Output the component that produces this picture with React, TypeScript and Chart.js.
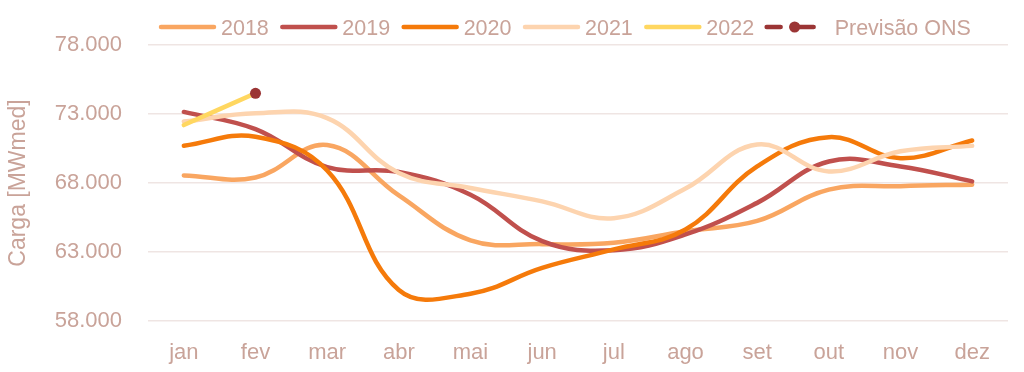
import { useEffect, useRef } from 'react';
import { Chart, registerables } from 'chart.js';

Chart.register(...registerables);

const categories = ['jan', 'fev', 'mar', 'abr', 'mai', 'jun', 'jul', 'ago', 'set', 'out', 'nov', 'dez'];

const y2018 = [68550, 68400, 70750, 67100, 63850, 63570, 63670, 64510, 65250, 67520, 67770, 67880];
const y2019 = [73150, 71900, 69150, 68800, 67150, 63790, 63120, 64270, 66560, 69560, 69200, 68120];
const y2020 = [70700, 71350, 68900, 60250, 59980, 61850, 63190, 64630, 69200, 71320, 69800, 71080];
const y2021 = [72450, 73050, 72700, 68720, 67640, 66670, 65450, 67600, 70790, 68840, 70300, 70690];
const y2022 = [72200, 74500];
const previsaoONS = [null, 74500];

const seriesLabels = ['2018', '2019', '2020', '2021', '2022'];
const seriesColors = ['#F9A661', '#C0504D', '#F57A0A', '#FDD4AF', '#FFD760'];
const onsLabel = 'Previsão ONS';
const onsColor = '#9B3535';

const yMin = 58000;
const yMax = 78000;
const yStep = 5000;
const yTitle = 'Carga [MWmed]';

const textColor = '#C9A399';
const gridColor = '#EFE5E3';
const FONT = '"Liberation Sans", Arial, sans-serif';

function fmt(v: number): string {
  const s = Math.round(v).toString();
  return s.replace(/\B(?=(\d{3})+(?!\d))/g, '.');
}

const legendPlugin = {
  id: 'customLegend',
  afterDraw(chart: any) {
    const ctx = chart.ctx as CanvasRenderingContext2D;
    ctx.save();
    ctx.font = `21.5px ${FONT}`;
    ctx.textBaseline = 'alphabetic';
    ctx.textAlign = 'left';
    const yLine = 27;
    const yText = 34.5;
    let x = chart.chartArea.left + 11;
    seriesLabels.forEach((lab, i) => {
      ctx.strokeStyle = seriesColors[i];
      ctx.lineWidth = 4.5;
      ctx.lineCap = 'round';
      ctx.beginPath();
      ctx.moveTo(x + 2, yLine);
      ctx.lineTo(x + 55, yLine);
      ctx.stroke();
      x += 62;
      ctx.fillStyle = textColor;
      ctx.fillText(lab, x, yText);
      x += ctx.measureText(lab).width + 11.5;
    });
    x -= 1;
    ctx.strokeStyle = onsColor;
    ctx.lineWidth = 4.5;
    ctx.lineCap = 'round';
    ctx.beginPath();
    ctx.moveTo(x + 2, yLine);
    ctx.lineTo(x + 16, yLine);
    ctx.moveTo(x + 27, yLine);
    ctx.lineTo(x + 49, yLine);
    ctx.stroke();
    ctx.fillStyle = onsColor;
    ctx.beginPath();
    ctx.arc(x + 30, yLine, 5.5, 0, Math.PI * 2);
    ctx.fill();
    ctx.fillStyle = textColor;
    ctx.fillText(onsLabel, x + 70, yText);
    ctx.restore();
  },
};

export default function App() {
  const ref = useRef<HTMLCanvasElement | null>(null);

  useEffect(() => {
    document.body.style.margin = '0';
    const canvas = ref.current;
    if (!canvas) return;
    const yearData = [y2018, y2019, y2020, y2021, y2022];
    const datasets: any[] = yearData.map((d, i) => ({
      label: seriesLabels[i],
      data: d,
      borderColor: seriesColors[i],
      backgroundColor: seriesColors[i],
      borderWidth: 4.5,
      pointRadius: 0,
      pointHoverRadius: 0,
      tension: 0.4,
      fill: false,
      borderCapStyle: 'round',
      order: 10 - i,
    }));
    datasets.push({
      label: onsLabel,
      data: previsaoONS,
      borderColor: onsColor,
      backgroundColor: onsColor,
      borderDash: [8, 4],
      borderWidth: 4.5,
      pointRadius: 5.5,
      pointHoverRadius: 5.5,
      pointBorderWidth: 0,
      showLine: false,
      order: 0,
    });

    const chart = new Chart(canvas, {
      type: 'line',
      data: { labels: categories, datasets },
      plugins: [legendPlugin],
      options: {
        animation: false,
        responsive: false,
        maintainAspectRatio: false,
        layout: { padding: { top: 45, right: 16, bottom: 0, left: 0 } },
        plugins: {
          legend: { display: false },
          tooltip: { enabled: false },
        },
        scales: {
          x: {
            offset: true,
            grid: { display: false, drawTicks: false },
            border: { display: false },
            afterFit: (scale: any) => {
              scale.height = 51;
            },
            ticks: {
              color: textColor,
              font: { family: FONT, size: 22 },
              padding: 19,
              maxRotation: 0,
              autoSkip: false,
            },
          },
          y: {
            min: yMin,
            max: yMax,
            grid: { color: gridColor, lineWidth: 1.5, drawTicks: false },
            border: { display: false },
            afterFit: (scale: any) => {
              scale.width = 148;
            },
            ticks: {
              stepSize: yStep,
              color: textColor,
              font: { family: FONT, size: 22 },
              padding: 26,
              callback: (v: any) => fmt(Number(v)),
            },
            title: {
              display: true,
              text: yTitle,
              color: textColor,
              font: { family: FONT, size: 23 },
              padding: { top: 5, bottom: 0 },
            },
          },
        },
      },
    });
    return () => chart.destroy();
  }, []);

  return (
    <div style={{ width: 1024, height: 372 }}>
      <canvas ref={ref} width={1024} height={372} style={{ display: 'block' }} />
    </div>
  );
}
